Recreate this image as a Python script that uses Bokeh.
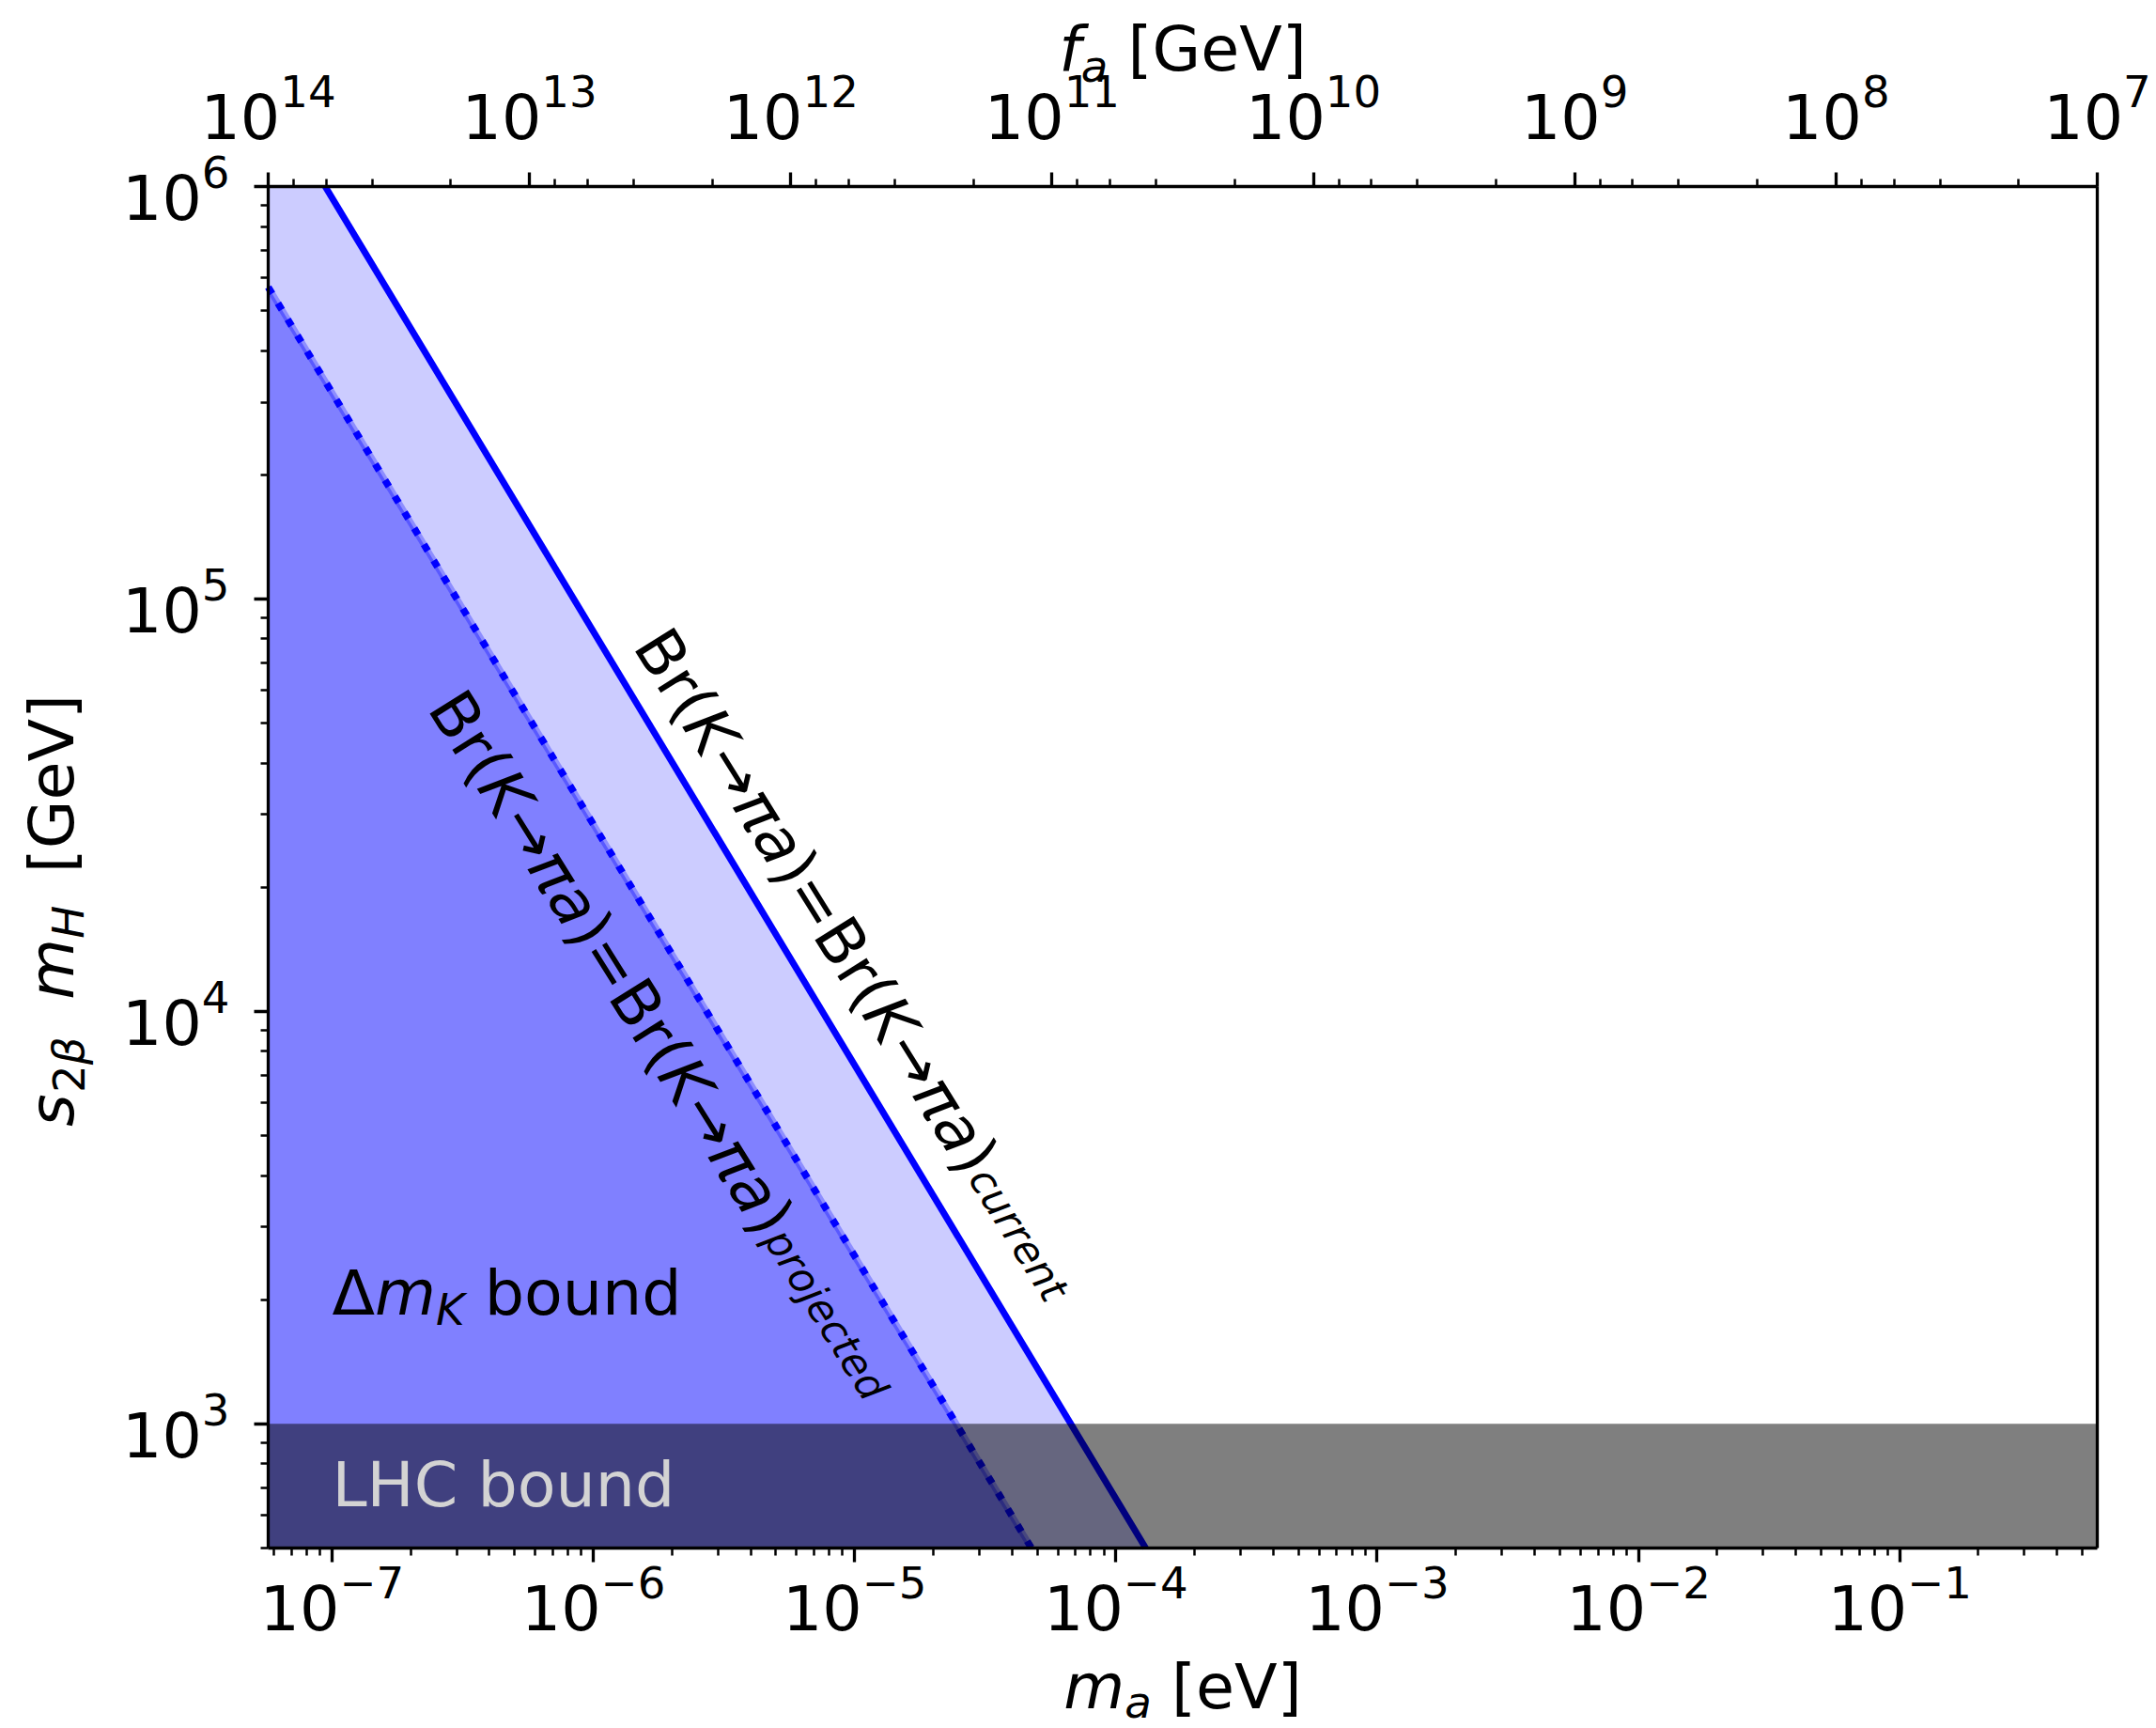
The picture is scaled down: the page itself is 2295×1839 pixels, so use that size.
import math

from bokeh.embed import file_html
from bokeh.models import FixedTicker, Label, LogAxis, LogScale, Range1d
from bokeh.plotting import figure
from bokeh.resources import INLINE

# ---------------------------------------------------------------- data ----
# axion mass range [eV] and the matching decay-constant range [GeV]
MA_MIN, MA_MAX = 5.7e-8, 0.57
FA_LEFT, FA_RIGHT = 1e14, 1e7
# s_2beta * m_H range [GeV]
Y_MIN, Y_MAX = 500.0, 1e6

# Br(K -> pi a) = current bound
ma_current = [9.42e-8, 1.30e-4]
s2b_mH_current = [1.0e6, 5.0e2]

# Br(K -> pi a) = projected bound
ma_projected = [5.7e-8, 4.75e-5]
s2b_mH_projected = [5.7e5, 5.0e2]

# LHC lower bound on s_2beta * m_H [GeV]
lhc_bound = 1.0e3

# -------------------------------------------------------------- layout ----
W, H = 2295, 1839
BOX_L, BOX_R, BOX_T, BOX_B = 285, 2232, 198, 1647   # axes box in px
FW, FH = BOX_R - BOX_L, BOX_B - BOX_T
FS = 66.67                   # main font size in px
FONT = "DejaVu Sans"
BIAS = 0.375                 # baseline correction for Label text (em)

LX0, LX1 = math.log10(MA_MIN), math.log10(MA_MAX)
LY0, LY1 = math.log10(Y_MIN), math.log10(Y_MAX)
DX = FW / (LX1 - LX0)        # px per decade
DY = FH / (LY1 - LY0)

# DejaVu Sans advance widths (em) used to chain mixed-style text pieces
ADV = {
    "B": 0.686, "r": 0.411, "(": 0.390, ")": 0.390, "K": 0.656, "→": 0.838,
    "π": 0.602, "a": 0.613, "=": 0.838, " ": 0.318, "c": 0.550, "u": 0.634,
    "n": 0.634, "e": 0.615, "t": 0.392, "p": 0.635, "o": 0.612, "j": 0.278,
    "d": 0.635, "b": 0.635, "L": 0.557, "H": 0.752, "C": 0.698, "m": 0.974,
    "Δ": 0.684, "G": 0.775, "V": 0.684, "[": 0.390, "]": 0.390, "f": 0.352,
    "s": 0.521, "2": 0.636, "β": 0.635,
}
SP = 0.318                   # width of a space (em)


def text_width(text, size):
    return sum(ADV.get(ch, 0.6) for ch in text) * size


def place_text(p, x, y, segs, angle=0.0, shift=0.0, perp=0.0,
               x_off=0.0, y_off=0.0, color="black"):
    """Draw a run of text pieces along one (possibly rotated) baseline.

    segs: (text, italic, scale, drop_px, gap_before_em, gap_after_em)
    shift: distance along the baseline from the run start to the anchor.
    perp: shift of the baseline towards the top of the glyphs (px).
    """
    ca, sa = math.cos(angle), math.sin(angle)
    pos = -shift
    for text, italic, scale, drop, gb, ga in segs:
        pos += gb * FS
        size = FS * scale
        d = perp - drop + BIAS * size
        dx = pos * ca - d * sa
        dy = pos * sa + d * ca
        p.add_layout(Label(
            x=x, y=y, x_offset=x_off + dx, y_offset=y_off + dy,
            text=text, angle=angle, text_font=FONT,
            text_font_style="italic" if italic else "normal",
            text_font_size=f"{size:.2f}px", text_color=color,
            text_align="left", text_baseline="alphabetic"))
        pos += text_width(text, size) + ga * FS


def run_width(segs):
    return sum(text_width(t, FS * sc) + (gb + ga) * FS
               for t, _, sc, _, gb, ga in segs)


def log_lerp(a, b, t):
    return 10 ** (math.log10(a) + t * (math.log10(b) - math.log10(a)))


def screen_angle(xs, ys):
    lx = (math.log10(xs[1]) - math.log10(xs[0])) * DX
    ly = (math.log10(ys[1]) - math.log10(ys[0])) * DY
    return math.atan2(ly, lx)


# ---------------------------------------------------------------- plot ----
# the frame spans the whole canvas; the axes sit on the edges of the data box
x_range = Range1d(10 ** (LX0 - BOX_L / DX), 10 ** (LX1 + (W - BOX_R) / DX))
y_range = Range1d(10 ** (LY0 - (H - BOX_B) / DY), 10 ** (LY1 + BOX_T / DY))

p = figure(x_axis_type="log", y_axis_type="log",
           x_range=x_range, y_range=y_range, width=W, height=H,
           min_border=0, output_backend="svg", toolbar_location=None)
p.title.visible = False
p.background_fill_color = "white"
p.border_fill_color = "white"
p.outline_line_color = None
p.xgrid.grid_line_color = None
p.ygrid.grid_line_color = None

p.extra_x_ranges = {"fa": Range1d(FA_LEFT * 10 ** (BOX_L / DX),
                                  FA_RIGHT / 10 ** ((W - BOX_R) / DX))}
p.extra_x_scales = {"fa": LogScale()}

bottom_axis = p.below[0]
bottom_axis.fixed_location = Y_MIN
bottom_axis.bounds = (MA_MIN, MA_MAX)

left_axis = p.left[0]
left_axis.fixed_location = MA_MIN
left_axis.bounds = (Y_MIN, Y_MAX * 1.0005)

top_axis = LogAxis(x_range_name="fa", fixed_location=Y_MAX,
                   bounds=(FA_RIGHT * 0.9995, FA_LEFT * 1.0005))
p.add_layout(top_axis, "above")

right_axis = LogAxis(fixed_location=MA_MAX, bounds=(Y_MIN, Y_MAX),
                     ticker=FixedTicker(ticks=[], minor_ticks=[]))
p.add_layout(right_axis, "right")

for ax in [bottom_axis, left_axis, top_axis, right_axis]:
    ax.axis_label = None
    ax.axis_line_width = 3.3
    ax.major_tick_line_width = 3.3
    ax.minor_tick_line_width = 2.5
    ax.major_tick_in = 0
    ax.major_tick_out = 15
    ax.minor_tick_in = 0
    ax.minor_tick_out = 8
    ax.major_label_text_font = FONT
    ax.major_label_text_font_size = f"{FS}px"
    ax.major_label_text_color = "black"

bottom_axis.major_label_standoff = 1
top_axis.major_label_standoff = 36
left_axis.major_label_standoff = 26

# excluded regions
p.harea(y=[s2b_mH_current[1], s2b_mH_current[0]],
        x1=[MA_MIN, MA_MIN], x2=[ma_current[1], ma_current[0]],
        fill_color="#ccccff")
p.harea(y=[s2b_mH_projected[1], s2b_mH_projected[0]],
        x1=[MA_MIN, MA_MIN], x2=[ma_projected[1], ma_projected[0]],
        fill_color="#8080ff")

# bound lines
p.line(ma_projected, s2b_mH_projected, line_color="blue", line_alpha=0.3,
       line_width=7)
p.line(ma_projected, s2b_mH_projected, line_color="blue", line_width=7.5,
       line_dash="8 12", line_cap="butt")
p.line(ma_current, s2b_mH_current, line_color="blue", line_width=7)

# LHC band
p.varea(x=[MA_MIN, MA_MAX], y1=[Y_MIN, Y_MIN], y2=[lhc_bound, lhc_bound],
        fill_color="black", fill_alpha=0.5)

# ---------------------------------------------------------- annotations ----
TILT = 0.015   # labels run a touch shallower than their lines (rad)


def br_segments(tag):
    return [
        ("Br(", False, 1.0, 0, 0, 0),
        ("K", True, 1.0, 0, 0, 0),
        ("→", False, 1.0, 0, 0, 0),
        ("πa", True, 1.0, 0, 0, 0),
        (")=Br(", False, 1.0, 0, 0, 0),
        ("K", True, 1.0, 0, 0, 0),
        ("→", False, 1.0, 0, 0, 0),
        ("πa", True, 1.0, 0, 0, 0),
        (")", False, 1.0, 0, 0, 0),
        (tag, True, 0.65, -4, 0.03, 0),
    ]


for xs, ys, tag, t, perp in [
    (ma_current, s2b_mH_current, "current", 0.545, 30.0),
    (ma_projected, s2b_mH_projected, "projected", 0.512, -85.0),
]:
    segs = br_segments(tag)
    ang = screen_angle(xs, ys) + TILT
    place_text(p, log_lerp(xs[0], xs[1], t), log_lerp(ys[0], ys[1], t), segs,
               angle=ang, shift=run_width(segs[:-1]) / 2, perp=perp)

place_text(p, 1e-7, 1820, [
    ("Δ", False, 1.0, 0, 0, 0),
    ("m", True, 1.0, 0, 0, 0),
    ("K", True, 0.7, 10, 0, 0),
    ("bound", False, 1.0, 0, SP, 0),
])
place_text(p, 1e-7, 625, [("LHC", False, 1.0, 0, 0, 0),
                          ("bound", False, 1.0, 0, SP, 0)], color="#d3d3d3")

# axis titles
x_mid = math.sqrt(MA_MIN * MA_MAX)
xlab = [("m", True, 1.0, 0, 0, 0), ("a", True, 0.7, 9, 0, 0),
        ("[eV]", False, 1.0, 0, SP, 0)]
place_text(p, x_mid, Y_MIN, xlab, shift=run_width(xlab) / 2, y_off=-173)

flab = [("f", True, 1.0, 0, 0, 0), ("a", True, 0.7, 11, 0, 0),
        ("[GeV]", False, 1.0, 0, SP, 0)]
place_text(p, x_mid, Y_MAX, flab, shift=run_width(flab) / 2, y_off=121)

y_mid = math.sqrt(Y_MIN * Y_MAX)
ylab = [("s", True, 1.0, 0, 0, 0), ("2", False, 0.7, 10, 0.02, 0),
        ("β", True, 0.7, 10, 0, 0),
        ("m", True, 1.0, 0, 0.6, 0), ("H", True, 0.7, 10, 0, 0),
        ("[GeV]", False, 1.0, 0, SP + 0.2, 0)]
place_text(p, MA_MIN, y_mid, ylab, angle=math.pi / 2,
           shift=run_width(ylab) / 2, x_off=-205, y_off=-46)

open("out.html", "w").write(file_html(p, INLINE))
